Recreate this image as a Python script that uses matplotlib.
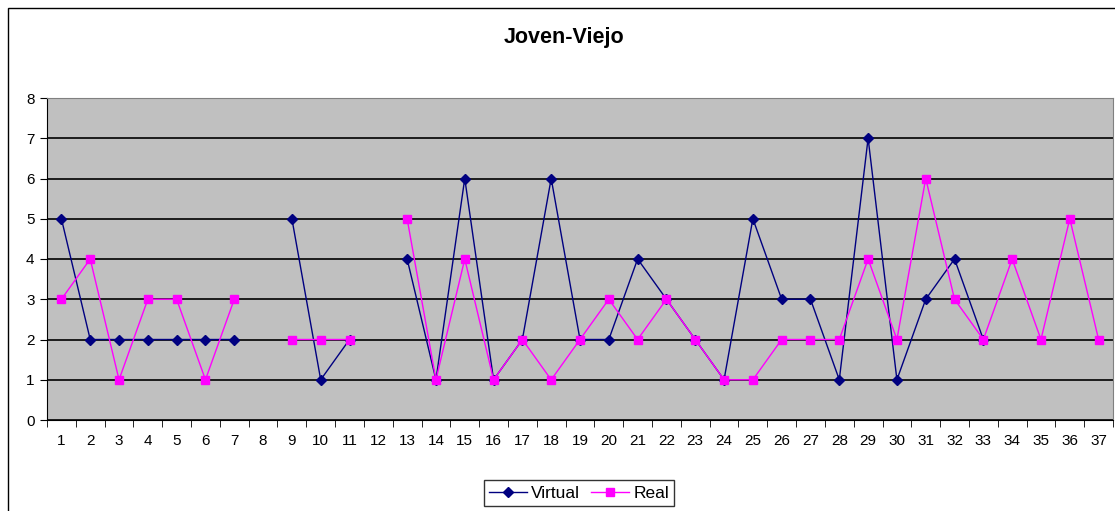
import matplotlib.pyplot as plt
from matplotlib.patches import Rectangle
import numpy as np

nan = np.nan

# Category labels along the x axis
categories = list(range(1, 38))

# Series values (nan = no point)
virtual = [5, 2, 2, 2, 2, 2, 2, nan, 5, 1, 2, nan, 4, 1, 6, 1, 2, 6, 2, 2,
           4, 3, 2, 1, 5, 3, 3, 1, 7, 1, 3, 4, 2, nan, nan, nan, nan]
real = [3, 4, 1, 3, 3, 1, 3, nan, 2, 2, 2, nan, 5, 1, 4, 1, 2, 1, 2, 3,
        2, 3, 2, 1, 1, 2, 2, 2, 4, 2, 6, 3, 2, 4, 2, 5, 2]

plt.rcParams['font.family'] = ['Liberation Sans', 'DejaVu Sans']

fig = plt.figure(figsize=(11.15, 5.11), dpi=100)
ax = fig.add_axes([47 / 1115, 1 - 420 / 511, (1113 - 47) / 1115, (420 - 98) / 511])

# Outer chart frame
fig.patches.append(Rectangle((8 / 1115, -0.05), 1.2, 1 - 8 / 511 + 0.05,
                             transform=fig.transFigure, fill=False,
                             edgecolor='black', linewidth=1.0))

ax.set_facecolor('#C0C0C0')
x = np.arange(1, len(categories) + 1)

ax.plot(x, virtual, color='#000080', marker='D', markersize=5, linewidth=1.0,
        label='Virtual', zorder=3)
ax.plot(x, real, color='#FF00FF', marker='s', markersize=6, linewidth=1.0,
        label='Real', zorder=4)

ax.set_xlim(0.5, len(categories) + 0.5)
ax.set_ylim(0, 8)
ax.set_yticks(range(0, 9))
ax.yaxis.grid(True, color='black', linewidth=1.2)
ax.set_axisbelow(True)

ax.set_xticks(x)
ax.set_xticklabels([str(c) for c in categories])
ax.set_xticks(np.arange(0.5, len(categories) + 1, 1), minor=True)
ax.tick_params(axis='x', which='major', length=0, pad=10, labelsize=11)
ax.tick_params(axis='x', which='minor', length=5, direction='out', color='black')
ax.tick_params(axis='y', length=5, direction='out', labelsize=11, pad=4)

ax.spines['top'].set_color('#808080')
ax.spines['right'].set_color('#808080')
ax.spines['left'].set_color('black')
ax.spines['bottom'].set_color('black')

fig.text(564 / 1115, 1 - 38 / 511, 'Joven-Viejo', ha='center', va='center',
         fontsize=15.5, fontweight='bold')

fig.legend(loc='center', bbox_to_anchor=(579 / 1115, 1 - 493 / 511), ncol=2,
           frameon=True, fancybox=False, edgecolor='black', fontsize=12.5,
           handlelength=2.2, handletextpad=0.25, columnspacing=0.6,
           borderpad=0.3)

fig.savefig('out.png', dpi=100)
